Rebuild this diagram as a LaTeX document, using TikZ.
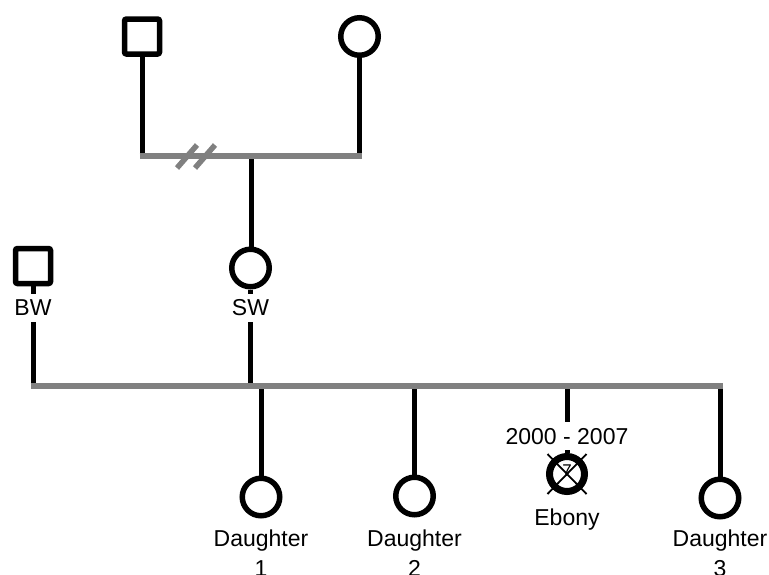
\documentclass[tikz,border=0pt]{standalone}
\usepackage{fontspec}
\setmainfont{Liberation Sans}
\usetikzlibrary{backgrounds}
\definecolor{bargray}{RGB}{128,128,128}
\tikzset{
  male/.style={draw=black, fill=white, rectangle, rounded corners=2pt, line width=5.5pt, minimum size=35pt, inner sep=0pt},
  female/.style={draw=black, fill=white, circle, line width=5.5pt, minimum size=37.5pt, inner sep=0pt},
  deceased/.style={draw=black, fill=white, circle, line width=7pt, minimum size=35pt, inner sep=0pt},
  descent/.style={draw=black, line width=5pt},
  union/.style={draw=bargray, line width=6pt},
  divorce/.style={draw=bargray, line width=5.5pt},
  cross/.style={draw=black, line width=1.8pt},
  lbl/.style={font=\fontsize{23}{30}\selectfont, fill=white, inner xsep=2pt, inner ysep=6pt, text height=16pt, text depth=0pt},
  namelbl/.style={font=\fontsize{23}{30}\selectfont, align=center, inner sep=0pt, anchor=north},
  agelbl/.style={font=\fontsize{17}{20}\selectfont, inner sep=0pt}
}
\begin{document}
\begin{tikzpicture}[x=1pt, y=-1pt]
  \path[use as bounding box] (0,0) rectangle (769,574);

  % levels of the two partnership bars
  \coordinate (topbar) at (0,156);
  \coordinate (mainbar) at (0,386);

  % grandparents
  \node[male]   (gf) at (142,36.5) {};
  \node[female] (gm) at (359.5,36.5) {};

  % parents
  \node[male]   (bw) at (33,266) {};
  \node[female] (sw) at (250.5,268) {};
  \node[lbl] (bwlbl) at (33,307.5) {BW};
  \node[lbl] (swlbl) at (250.5,307.5) {SW};

  % children
  \node[female] (d1) at (261,497) {};
  \node[female] (d2) at (414.5,496) {};
  \node[deceased] (eb) at (567,474) {};
  \node[female] (d3) at (720,498) {};

  % crossed-out symbol of the deceased child
  \draw[cross] ([shift={(-19.5,-20)}]eb.center) -- ([shift={(19.5,20)}]eb.center);
  \draw[cross] ([shift={(19.5,-20)}]eb.center) -- ([shift={(-19.5,20)}]eb.center);
  \node[agelbl] (ebage) at ([yshift=3pt]eb.center) {7};

  \node[lbl] (ebdates) at (567,436) {2000 - 2007};
  \node[namelbl] (d1name) at (261,529.5) {Daughter\\1};
  \node[namelbl] (d2name) at (414.5,529.5) {Daughter\\2};
  \node[font=\fontsize{23}{30}\selectfont, inner sep=0pt] (ebname) at (567,520) {Ebony};
  \node[namelbl] (d3name) at (720,529.5) {Daughter\\3};

  \begin{scope}[on background layer]
    % lines of descent
    \draw[descent] (gf.south) -- ([yshift=1pt]gf |- topbar);
    \draw[descent] (gm.south) -- ([yshift=1pt]gm |- topbar);
    \draw[descent] ([xshift=0.5pt]sw |- topbar) -- ([xshift=0.5pt]sw.north);
    \draw[descent] (bw.south) -- ([yshift=1pt]bw |- mainbar);
    \draw[descent] (sw.south) -- ([yshift=1pt]sw |- mainbar);
    \draw[descent] (d1 |- mainbar) -- (d1.north);
    \draw[descent] (d2 |- mainbar) -- (d2.north);
    \draw[descent] (eb |- mainbar) -- (eb.north);
    \draw[descent] (d3 |- mainbar) -- (d3.north);

    % partnership bars
    \draw[union] ([xshift=-2.5pt]gf |- topbar) -- ([xshift=2.5pt]gm |- topbar);
    \draw[union] ([xshift=-2.5pt]bw |- mainbar) -- ([xshift=2.5pt]d3 |- mainbar);

    % divorce mark on the grandparents' bar
    \coordinate (div) at (196,156.5);
    \draw[divorce] ([shift={(-19,11.5)}]div) -- ([shift={(1,-11.5)}]div);
    \draw[divorce] ([shift={(-1,11.5)}]div) -- ([shift={(19,-11.5)}]div);
  \end{scope}
\end{tikzpicture}
\end{document}
